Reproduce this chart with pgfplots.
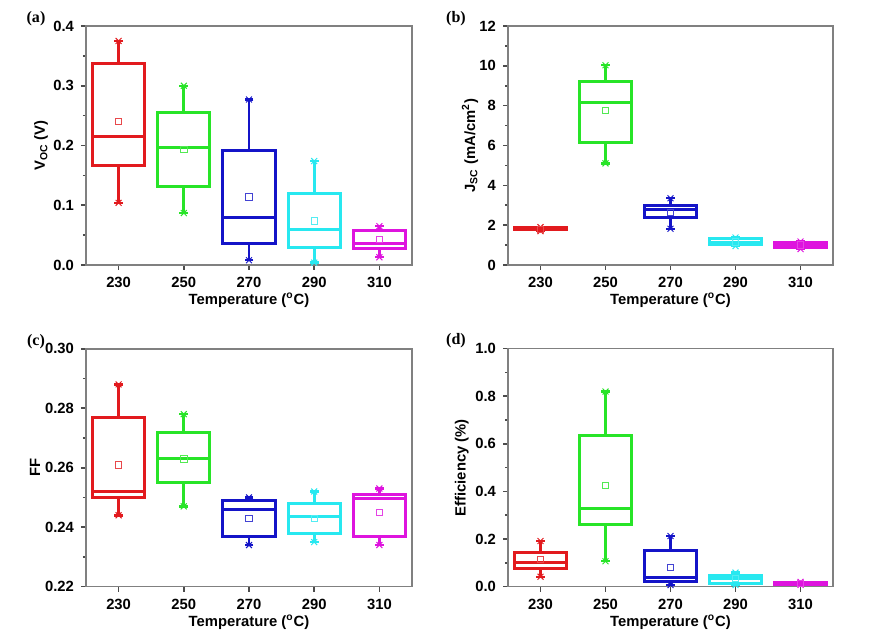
\documentclass[border=0pt]{standalone}
\usepackage{pgfplots}
\pgfplotsset{compat=1.18}
\usepackage{fontspec}
\setmainfont{Liberation Sans}
\newfontfamily\tnr{Liberation Serif}
\definecolor{cR}{RGB}{226,26,30}
\definecolor{cG}{RGB}{40,228,40}
\definecolor{cB}{RGB}{20,20,200}
\definecolor{cC}{RGB}{40,232,240}
\definecolor{cM}{RGB}{222,20,222}
% args: colour, pos, lower whisker, q1, median, q3, upper whisker, mean
\newcommand\bx[8]{%
  \pgfmathsetmacro\xl{#2-8}\pgfmathsetmacro\xr{#2+8}%
  \addplot[draw=#1, line width=1.5pt, line join=miter] coordinates {(\xl,#4) (\xr,#4) (\xr,#6) (\xl,#6) (\xl,#4) (\xr,#4)};
  \addplot[draw=#1, line width=1.5pt] coordinates {(\xl,#5) (\xr,#5)};
  \addplot[draw=#1, line width=1.4pt] coordinates {(#2,#3) (#2,#4)};
  \addplot[draw=#1, line width=1.4pt] coordinates {(#2,#6) (#2,#7)};
  \addplot[draw=#1, only marks, mark=x, mark size=2.1pt, mark options={line width=0.5pt}] coordinates {(#2,#3) (#2,#7)};
  \addplot[draw=#1, only marks, mark=-, mark size=2.2pt, mark options={line width=1.2pt}] coordinates {(#2,#3) (#2,#7)};
  \addplot[draw=#1!80!white, only marks, mark=square, mark size=1.6pt, mark options={line width=0.4pt}] coordinates {(#2,#8)};
}
\pgfplotsset{panel/.style={scale only axis, width=163pt, height=119.5pt,
  xmin=220, xmax=320, xtick={230,250,270,290,310},
  ytick pos=left, xtick pos=bottom, tick align=outside,
  major tick length=2.5pt, minor tick length=1.5pt, minor y tick num=1,
  axis line style={draw=gray, line width=0.8pt},
  every tick/.style={draw=gray!60!black, line width=0.8pt},
  tick label style={font=\fontsize{7.4}{8}\selectfont\bfseries},
  label style={font=\fontsize{7.4}{8}\selectfont\bfseries},
  /pgf/number format/assume math mode=true,
  xlabel={Temperature (\textsuperscript{o}C)},
  xlabel style={at={(axis description cs:0.5,-0.148)}, anchor=center},
  clip=false}}
\begin{document}
\begin{tikzpicture}
\path[use as bounding box] (0,0) rectangle (435pt,320pt);
% (a)
\begin{axis}[panel, at={(43pt,187.5pt)}, anchor=south west,
  ymin=0, ymax=0.4, ytick={0,0.1,0.2,0.3,0.4},
  yticklabel style={/pgf/number format/.cd, fixed, fixed zerofill, precision=1},
  ylabel={V\textsubscript{OC} (V)},
  ylabel style={at={(axis description cs:-0.138,0.5)}, anchor=center}]
\bx{cR}{230}{0.104}{0.166}{0.215}{0.337}{0.375}{0.240}
\bx{cG}{250}{0.087}{0.131}{0.196}{0.256}{0.300}{0.193}
\bx{cB}{270}{0.008}{0.036}{0.079}{0.191}{0.277}{0.114}
\bx{cC}{290}{0.004}{0.029}{0.060}{0.120}{0.174}{0.074}
\bx{cM}{310}{0.013}{0.028}{0.036}{0.058}{0.065}{0.043}
\end{axis}
% (b)
\begin{axis}[panel, at={(254pt,187.5pt)}, anchor=south west, width=162.5pt,
  ymin=0, ymax=12, ytick={0,2,4,6,8,10,12},
  ylabel={J\textsubscript{SC} (mA/cm\textsuperscript{2})},
  ylabel style={at={(axis description cs:-0.117,0.5)}, anchor=center}]
\bx{cR}{230}{1.70}{1.76}{1.80}{1.86}{1.90}{1.80}
\bx{cG}{250}{5.10}{6.14}{8.17}{9.22}{10.03}{7.77}
\bx{cB}{270}{1.82}{2.39}{2.78}{3.00}{3.35}{2.65}
\bx{cC}{290}{0.95}{1.02}{1.13}{1.32}{1.38}{1.15}
\bx{cM}{310}{0.80}{0.90}{1.00}{1.15}{1.18}{1.00}
\end{axis}
% (c)
\begin{axis}[panel, at={(43pt,26.65pt)}, anchor=south west, height=119pt,
  ymin=0.22, ymax=0.30, ytick={0.22,0.24,0.26,0.28,0.30},
  yticklabel style={/pgf/number format/.cd, fixed, fixed zerofill, precision=2},
  ylabel={FF},
  ylabel style={at={(axis description cs:-0.156,0.5)}, anchor=center}]
\bx{cR}{230}{0.244}{0.250}{0.252}{0.277}{0.288}{0.261}
\bx{cG}{250}{0.247}{0.255}{0.263}{0.272}{0.278}{0.263}
\bx{cB}{270}{0.234}{0.237}{0.246}{0.249}{0.250}{0.243}
\bx{cC}{290}{0.235}{0.238}{0.2435}{0.248}{0.252}{0.243}
\bx{cM}{310}{0.234}{0.237}{0.2495}{0.251}{0.253}{0.245}
\end{axis}
% (d)
\begin{axis}[panel, at={(254pt,26.65pt)}, anchor=south west, width=162.5pt, height=119pt,
  ymin=0, ymax=1.0, ytick={0,0.2,0.4,0.6,0.8,1.0},
  yticklabel style={/pgf/number format/.cd, fixed, fixed zerofill, precision=1},
  ylabel={Efficiency (\%)},
  ylabel style={at={(axis description cs:-0.142,0.5)}, anchor=center}]
\bx{cR}{230}{0.042}{0.077}{0.102}{0.143}{0.192}{0.114}
\bx{cG}{250}{0.107}{0.262}{0.327}{0.635}{0.820}{0.425}
\bx{cB}{270}{0.007}{0.022}{0.039}{0.150}{0.213}{0.081}
\bx{cC}{290}{0.007}{0.015}{0.035}{0.046}{0.059}{0.035}
\bx{cM}{310}{0.008}{0.010}{0.013}{0.017}{0.020}{0.013}
\end{axis}
\node[font=\tnr\fontsize{8}{9}\selectfont\bfseries] at (18pt,310.5pt) {(a)};
\node[font=\tnr\fontsize{8}{9}\selectfont\bfseries] at (228pt,310.5pt) {(b)};
\node[font=\tnr\fontsize{8}{9}\selectfont\bfseries] at (18pt,149pt) {(c)};
\node[font=\tnr\fontsize{8}{9}\selectfont\bfseries] at (228pt,149.5pt) {(d)};
\end{tikzpicture}
\end{document}
